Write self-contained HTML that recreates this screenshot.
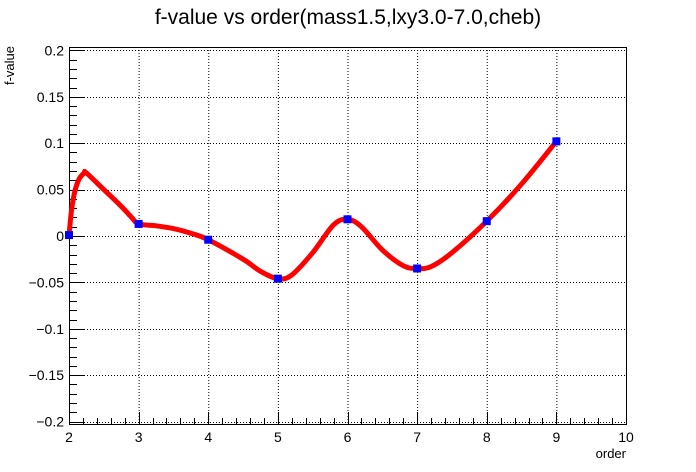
<!DOCTYPE html>
<html><head><meta charset="utf-8"><style>
body{margin:0;background:#fff;}
svg{display:block;font-family:"Liberation Sans",sans-serif;}
</style></head><body>
<svg id="c" width="696" height="472"></svg>
<script>
const pointX=[2,3,4,5,6,7,8,9];
const pointY=[0.001,0.013,-0.004,-0.046,0.018,-0.035,0.016,0.102];
const curveX=[2,2.04,2.09,2.15,2.22,2.25,2.5,2.75,2.9,3,3.25,3.5,3.75,4,4.5,4.75,5,5.2,5.5,5.8,6,6.2,6.5,6.8,7,7.2,7.5,8,8.5,9];
const curveY=[0.001,0.03,0.05,0.062,0.068,0.068,0.05,0.032,0.02,0.013,0.011,0.008,0.003,-0.004,-0.025,-0.038,-0.046,-0.042,-0.018,0.012,0.018,0.010,-0.015,-0.032,-0.035,-0.033,-0.018,0.016,0.056,0.102];
const xTicks=[2,3,4,5,6,7,8,9,10];
const yTicks=[-0.2,-0.15,-0.1,-0.05,0,0.05,0.1,0.15,0.2];
const yTickLabels=["\u22120.2","\u22120.15","\u22120.1","\u22120.05","0","0.05","0.1","0.15","0.2"];

const L=69,R=626,T=47,B=424;
const sx=v=>L+(v-2)*(R-L)/8;
const sy=v=>236-v*928;
const svg=document.getElementById('c');
const NS='http://www.w3.org/2000/svg';
function mk(tag,attrs,parent){const e=document.createElementNS(NS,tag);for(const k in attrs)e.setAttribute(k,attrs[k]);(parent||svg).appendChild(e);return e;}

const t=mk('text',{x:348,y:24,'text-anchor':'middle','font-size':21});
t.textContent='f-value vs order(mass1.5,lxy3.0-7.0,cheb)';



const grid=mk('g',{stroke:'#000','stroke-width':1,'stroke-dasharray':'1,2'});


xTicks.forEach(v=>{if(v>2&&v<10)mk('line',{x1:sx(v)+.5,x2:sx(v)+.5,y1:T,y2:B},grid);});
yTicks.forEach(v=>mk('line',{x1:L,x2:R,y1:Math.round(sy(v))+.5,y2:Math.round(sy(v))+.5},grid));

const ax=mk('g',{stroke:'#000','stroke-width':1});


mk('rect',{x:L+.5,y:T+.5,width:R-L,height:B-T,fill:'none'},ax);
for(let i=0;i<=40;i++){const v=2+i*0.2;const x=Math.round(sx(v))+.5;const len=(i%5==0)?12:6;mk('line',{x1:x,x2:x,y1:B,y2:B-len},ax);}
for(let i=0;i<=40;i++){const v=-0.2+i*0.01;const y=Math.round(sy(v))+.5;if(y<T)continue;const len=(i%5==0)?16:8;mk('line',{x1:L,x2:L+len,y1:y,y2:y},ax);}

xTicks.forEach(v=>{const e=mk('text',{x:sx(v),y:442,'text-anchor':'middle','font-size':14});e.textContent=v;

});
yTicks.forEach((v,i)=>{const e=mk('text',{x:64,y:sy(v)+5,'text-anchor':'end','font-size':14});e.textContent=yTickLabels[i];

});

const xt=mk('text',{x:626,y:458,'text-anchor':'end','font-size':13});xt.textContent='order';


const yt=mk('text',{x:0,y:0,'text-anchor':'end','font-size':13,transform:'translate(14,46) rotate(-90)'});yt.textContent='f-value';



const P=curveX.map((x,i)=>[sx(x),sy(curveY[i])]);
let d='M'+P[0][0]+','+P[0][1];
for(let i=0;i<P.length-1;i++){const p0=P[Math.max(0,i-1)],p1=P[i],p2=P[i+1],p3=P[Math.min(P.length-1,i+2)];
d+=' C'+(p1[0]+(p2[0]-p0[0])/6)+','+(p1[1]+(p2[1]-p0[1])/6)+' '+(p2[0]-(p3[0]-p1[0])/6)+','+(p2[1]-(p3[1]-p1[1])/6)+' '+p2[0]+','+p2[1];}
const c=mk('path',{d:d,fill:'none',stroke:'#ff0000','stroke-width':5,'stroke-linejoin':'round'});



pointX.forEach((x,i)=>{const r=mk('rect',{x:sx(x)-4,y:sy(pointY[i])-4,width:8,height:8,fill:'#0000ff'});

});
</script>
</body></html>
